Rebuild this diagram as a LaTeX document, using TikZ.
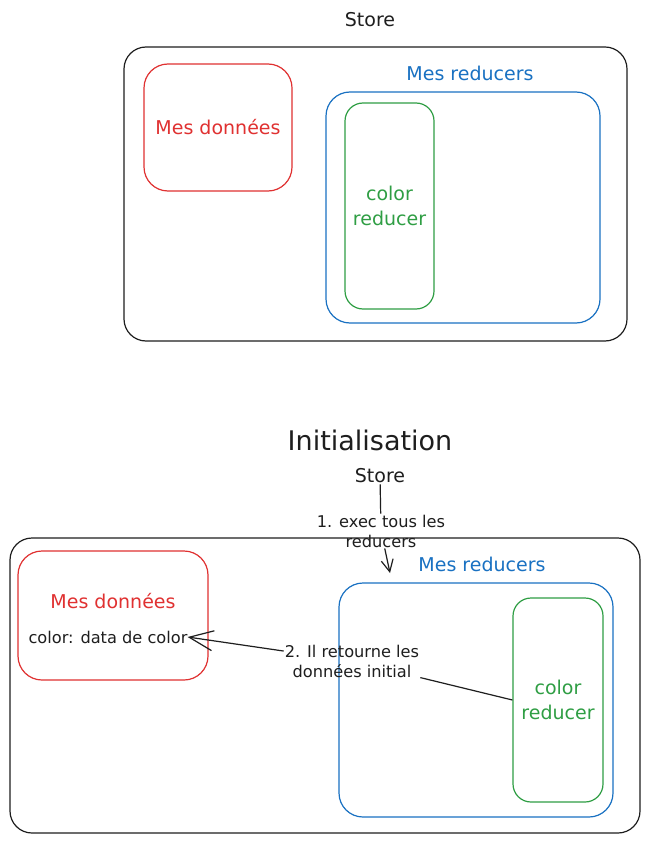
\documentclass[tikz,border=0pt]{standalone}
\usepackage{fontspec}
\setmainfont{DejaVu Sans}
\usetikzlibrary{arrows.meta}
\definecolor{exred}{HTML}{E03131}
\definecolor{exblue}{HTML}{1971C2}
\definecolor{exgreen}{HTML}{2F9E44}
\definecolor{exink}{HTML}{1E1E1E}
\tikzset{
  box/.style={draw, line width=1.2pt, rounded corners=#1, inner sep=0pt},
  box/.default=22pt,
  txt/.style={font=\fontsize{19}{25}\selectfont, align=center, inner sep=0pt},
  small/.style={font=\fontsize{16.2}{20}\selectfont, align=center, inner sep=1pt, text=exink},
  conn/.style={draw=exink, line width=1.2pt},
}
\begin{document}
\begin{tikzpicture}[x=1pt,y=-1pt]
\useasboundingbox[fill=white] (0,0) rectangle (648,842);

% ---------- top ----------
\node[txt, text=exink] (store1) at (370,20) {Store};
\node[box, draw=exink, minimum width=503pt, minimum height=294pt] (big1) at (375.5,194) {};
\node[box=24pt, draw=exred, text=exred, txt, minimum width=148pt, minimum height=127pt] (red1) at (218,127.5) {Mes données};
\node[txt, text=exblue] (mr1) at (470,73) {Mes reducers};
\node[box=24pt, draw=exblue, minimum width=274pt, minimum height=231pt] (blue1) at (463,207.5) {};
\node[box=18pt, draw=exgreen, text=exgreen, txt, minimum width=89pt, minimum height=206pt] (green1) at (389.5,206) {color\\reducer};

% ---------- bottom ----------
\node[font=\fontsize{27}{32}\selectfont, text=exink, inner sep=0pt] (init) at (370,440) {Initialisation};
\node[txt, text=exink, inner sep=1pt] (store2) at (380,476) {Store};
\node[box, draw=exink, minimum width=630pt, minimum height=295pt] (big2) at (325,685.5) {};
\node[box=24pt, draw=exred, minimum width=190pt, minimum height=129pt] (red2) at (113,615.5) {};
\node[txt, text=exred] (md2) at (113,601) {Mes données};
\node[small, inner sep=0pt] (cd) at (108,637) {color: data de color};
\node[txt, text=exblue] (mr2) at (482,564) {Mes reducers};
\node[box=24pt, draw=exblue, minimum width=274pt, minimum height=234pt] (blue2) at (476,700) {};
\node[box=18pt, draw=exgreen, text=exgreen, txt, minimum width=90pt, minimum height=204pt] (green2) at (558,700) {color\\reducer};

% arrow 1
\node[small] (l1) at (381,531) {1. exec tous les\\reducers};
\coordinate (tip1) at (390,573);
\draw[conn] (store2) -- (l1);
\draw[conn, -{Straight Barb[length=12pt,width=12pt]}] (l1) -- (tip1);

% arrow 2
\node[small] (l2) at (352,661) {2. Il retourne les\\données initial};
\draw[conn] (green2.west) -- (l2);
\draw[conn, -{Straight Barb[length=24pt,width=20pt]}] (l2) -- (cd.east);
\end{tikzpicture}
\end{document}
